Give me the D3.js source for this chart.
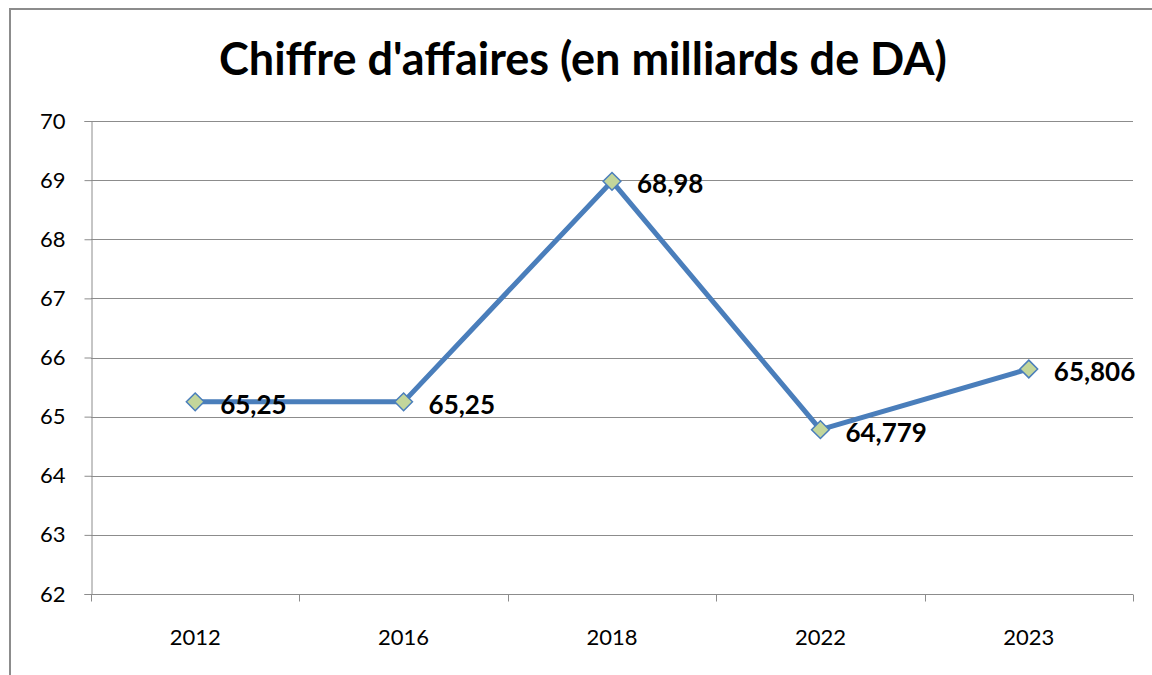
<!DOCTYPE html>
<html>
<head>
<meta charset="utf-8">
<script src="https://cdn.jsdelivr.net/npm/d3@7"></script>
<style>
  body { margin: 0; background: #fff; }
  svg { display: block; font-family: Lato, "Open Sans", sans-serif; }
</style>
</head>
<body>
<div id="chart"></div>
<script>
const years = ["2012", "2016", "2018", "2022", "2023"];
const values = [65.25, 65.25, 68.98, 64.779, 65.806];
const valueLabels = ["65,25", "65,25", "68,98", "64,779", "65,806"];
const yTicks = [62, 63, 64, 65, 66, 67, 68, 69, 70];

const width = 1152, height = 675;
const margin = { top: 121, right: 19, bottom: 81, left: 91 };

const svg = d3.select("#chart")
  .append("svg")
  .attr("width", width)
  .attr("height", height);

// chart frame
svg.append("rect")
  .attr("x", 10)
  .attr("y", 9)
  .attr("width", 1160)
  .attr("height", 700)
  .attr("fill", "none")
  .attr("stroke", "#8c8c8c")
  .attr("stroke-width", 2);

svg.append("text")
  .attr("x", 583)
  .attr("y", 75)
  .attr("text-anchor", "middle")
  .attr("font-size", 45)
  .attr("font-weight", "bold")
  .text("Chiffre d'affaires (en milliards de DA)");

const x = d3.scaleBand()
  .domain(years)
  .range([margin.left, width - margin.right]);

const y = d3.scaleLinear()
  .domain([62, 70])
  .range([height - margin.bottom, margin.top]);

// gridlines
svg.append("g")
  .selectAll("line")
  .data(yTicks.slice(1))
  .join("line")
  .attr("x1", margin.left)
  .attr("x2", width - margin.right)
  .attr("y1", d => Math.round(y(d)) + 0.5)
  .attr("y2", d => Math.round(y(d)) + 0.5)
  .attr("stroke", "#8c8c8c")
  .attr("stroke-width", 1);

// y axis
const yAxis = svg.append("g")
  .attr("transform", `translate(${margin.left + 0.5},0)`)
  .call(d3.axisLeft(y).tickValues(yTicks).tickSize(7).tickPadding(19).tickFormat(d3.format("d")));
yAxis.selectAll("text").attr("font-size", 22).attr("font-family", "Lato").attr("fill", "#000");
yAxis.selectAll("line, path").attr("stroke", "#8c8c8c");

// x axis with ticks on band edges
const xAxis = svg.append("g")
  .attr("transform", `translate(0,${Math.round(y(62)) + 0.5})`);
xAxis.append("line")
  .attr("x1", margin.left)
  .attr("x2", width - margin.right)
  .attr("stroke", "#8c8c8c");
xAxis.selectAll(".tk")
  .data(years.concat(["end"]))
  .join("line")
  .attr("class", "tk")
  .attr("x1", (d, i) => Math.round(margin.left + i * x.bandwidth()) + 0.5)
  .attr("x2", (d, i) => Math.round(margin.left + i * x.bandwidth()) + 0.5)
  .attr("y1", 0)
  .attr("y2", 7)
  .attr("stroke", "#8c8c8c");
xAxis.selectAll("text")
  .data(years)
  .join("text")
  .attr("x", d => x(d) + x.bandwidth() / 2)
  .attr("y", 50)
  .attr("text-anchor", "middle")
  .attr("font-size", 22)
  .text(d => d);

const pts = years.map((yr, i) => ({ yr, v: values[i], label: valueLabels[i] }));

const line = d3.line()
  .x(d => x(d.yr) + x.bandwidth() / 2)
  .y(d => y(d.v));

svg.append("path")
  .datum(pts)
  .attr("d", line)
  .attr("fill", "none")
  .attr("stroke", "#4a7ebb")
  .attr("stroke-width", 5)
  .attr("stroke-linejoin", "round");

svg.append("g")
  .selectAll("path")
  .data(pts)
  .join("path")
  .attr("d", d3.symbol(d3.symbolDiamond2, 200))
  .attr("transform", d => `translate(${x(d.yr) + x.bandwidth() / 2},${y(d.v)})`)
  .attr("fill", "#c3d69b")
  .attr("stroke", "#4a7ebb")
  .attr("stroke-width", 1.5);

svg.append("g")
  .selectAll("text")
  .data(pts)
  .join("text")
  .attr("x", d => x(d.yr) + x.bandwidth() / 2 + 25)
  .attr("y", d => y(d.v) + 12)
  .attr("font-size", 26)
  .attr("font-weight", "bold")
  .text(d => d.label);
</script>
</body>
</html>
